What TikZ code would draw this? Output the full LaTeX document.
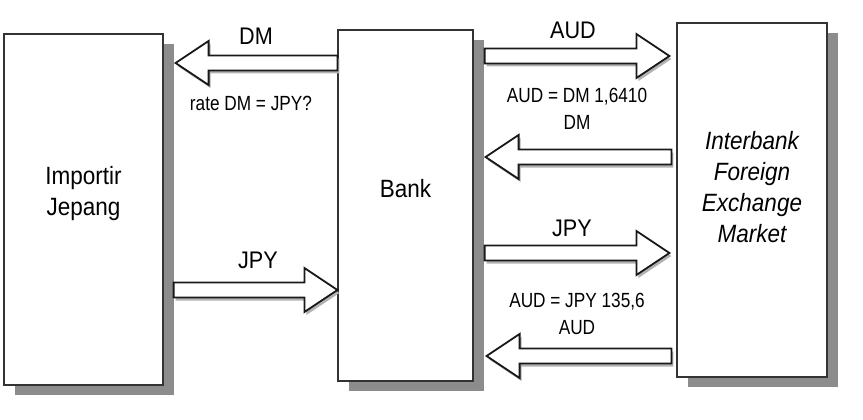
\documentclass[tikz,border=0pt]{standalone}
\usepackage{fontspec}
\setmainfont{Liberation Sans}[FakeStretch=0.9]
\newfontfamily\ratefont{Liberation Sans}[FakeStretch=0.84]
\usepackage{tikz}
\usetikzlibrary{calc,shadows}

% hollow block arrow between two points on one level
\newcommand{\fatarrow}[2]{%
  \draw[fatarr] let \p1=(#1), \p2=(#2), \n1={sign(\x2-\x1)} in
    (\x1,\y1+7.5pt) -- (\x2-\n1*33pt,\y1+7.5pt) -- (\x2-\n1*33pt,\y1+22pt)
    -- (\x2,\y1) -- (\x2-\n1*33pt,\y1-22pt) -- (\x2-\n1*33pt,\y1-7.5pt)
    -- (\x1,\y1-7.5pt) -- cycle;}

\begin{document}
\begin{tikzpicture}[
    x=1pt, y=-1pt,
    party/.style={draw=black!80, line width=1.2pt, fill=white, inner sep=0pt,
      drop shadow={shadow xshift=11pt, shadow yshift=-10pt, fill=black!45, opacity=1}},
    fatarr/.style={draw=black!90, line width=1.8pt, fill=white, line join=miter,
      drop shadow={shadow xshift=2pt, shadow yshift=-3pt, fill=black!30, opacity=1}},
    bigtxt/.style={font=\fontsize{25}{31}\selectfont, align=center, inner sep=0pt},
    flowtxt/.style={font=\fontsize{24}{28}\selectfont, inner sep=0pt},
    ratetxt/.style={font=\ratefont\fontsize{20.5}{27}\selectfont, align=center, inner sep=0pt},
]
\useasboundingbox (0,0) rectangle (863,420);

% the three parties
\node[party, minimum width=159pt, minimum height=351pt] (imp) at (83.5,209.5) {};
\node[party, minimum width=135pt, minimum height=351pt] (bank) at (405.5,205.5) {};
\node[party, minimum width=150pt, minimum height=354pt] (ifx) at (752,200) {};

\node[bigtxt] (impTxt) at ([yshift=16pt]imp.center) {Importir\\Jepang};
\node[bigtxt] (bankTxt) at ([yshift=16.5pt]bank.center) {Bank};
\node[bigtxt, font=\fontsize{25}{31}\selectfont\itshape] (ifxTxt) at ([yshift=13pt]ifx.center)
  {Interbank\\Foreign\\Exchange\\Market};

% flows between importer and bank
\fatarrow{bank.west |- 0,63}{[xshift=12pt]imp.east |- 0,63}
\fatarrow{[xshift=10pt]imp.east |- 0,290}{bank.west |- 0,290}

% flows between bank and interbank market
\fatarrow{[xshift=11pt]bank.east |- 0,56}{[xshift=-7pt]ifx.west |- 0,56}
\fatarrow{[xshift=-5pt]ifx.west |- 0,157}{[xshift=12pt]bank.east |- 0,157}
\fatarrow{[xshift=11pt]bank.east |- 0,253}{[xshift=-7pt]ifx.west |- 0,253}
\fatarrow{[xshift=-5pt]ifx.west |- 0,356}{[xshift=13pt]bank.east |- 0,356}

% labels
\node[flowtxt] (dmOut) at (256,36) {DM};
\node[ratetxt] (rateQ) at (251,103.5) {rate DM = JPY?};
\node[flowtxt] (jpyIn) at (258,260) {JPY};
\node[flowtxt] (audOut) at (573,30) {AUD};
\node[ratetxt] (rateDM) at (577,109) {AUD = DM 1,6410\\DM};
\node[flowtxt] (jpyOut) at (572,228) {JPY};
\node[ratetxt] (rateJPY) at (577,313.5) {AUD = JPY 135,6\\AUD};
\end{tikzpicture}
\end{document}
